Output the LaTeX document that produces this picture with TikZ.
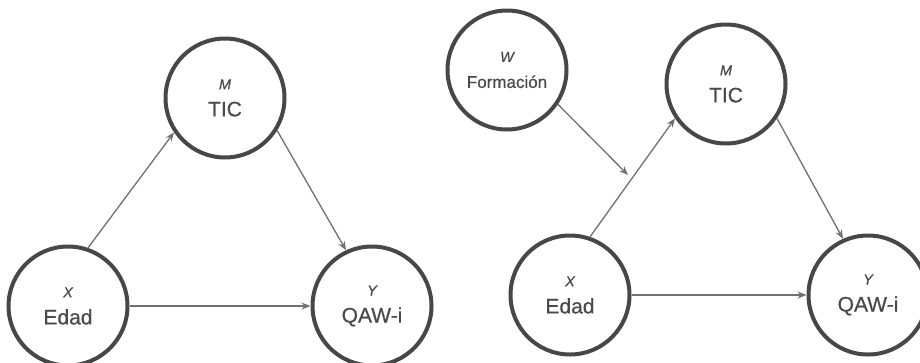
\documentclass[tikz,border=0pt]{standalone}
\usepackage{fontspec}
\setmainfont[FakeBold=0.6,AutoFakeBold=0.6]{Liberation Sans}
\usetikzlibrary{arrows.meta}
\definecolor{ring}{HTML}{474747}
\definecolor{txt}{HTML}{4A4A4A}
\definecolor{arr}{HTML}{707070}
\tikzset{
  var/.style={circle, draw=ring, line width=4pt, minimum size=119pt, inner sep=0pt, align=center, text=txt,
    font=\fontsize{21}{27}\selectfont\bfseries},
  conn/.style={draw=arr, line width=1.3pt, -{Stealth[length=9pt,width=7pt]}},
}
\newcommand{\vlab}[2]{{\fontsize{14.5}{14}\selectfont\itshape #1}\\#2}
\begin{document}
\begin{tikzpicture}[x=1pt,y=-1pt]
\useasboundingbox (0,0) rectangle (920,362);
% left diagram
\node[var] (x1) at (68,306) {\vlab{X}{Edad}};
\node[var] (m1) at (225,98) {\vlab{M}{TIC}};
\node[var] (y1) at (372,306) {\vlab{Y}{QAW-i}};
\draw[conn] (x1.71) -- (m1.214);
\draw[conn] (x1) -- (y1);
\draw[conn] (m1.-32) -- (y1.115);
% right diagram
\node[var, font=\fontsize{17}{26}\selectfont\bfseries] (w2) at (507,70) {\vlab{W}{Formación}};
\node[var] (m2) at (726,84) {\vlab{M}{TIC}};
\node[var] (x2) at (570,295) {\vlab{X}{Edad}};
\node[var] (y2) at (868,295) {\vlab{Y}{QAW-i}};
\coordinate (mod) at (628,175);
\draw[conn] (x2.71) -- (m2.214);
\draw[conn] (x2) -- (y2);
\draw[conn] (m2.-34) -- (y2.114);
\draw[conn] (w2.-34) -- (mod);
\end{tikzpicture}
\end{document}
